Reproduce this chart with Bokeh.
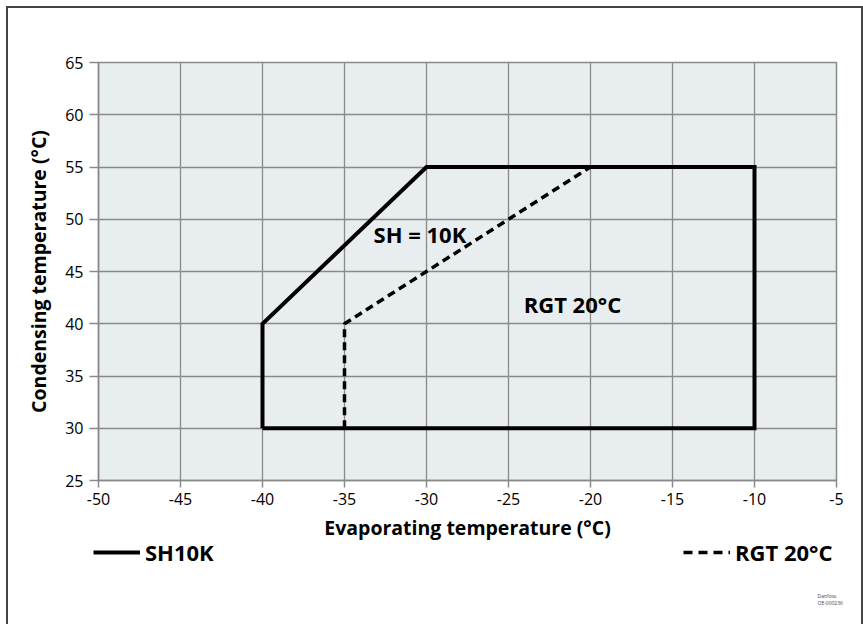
from bokeh.plotting import figure
from bokeh.models import (FixedTicker, Legend, LegendItem, Label, Range1d)
from bokeh.embed import file_html
from bokeh.resources import INLINE

# --- data ---
sh10k_x = [-40, -40, -30, -10, -10, -40]
sh10k_y = [30, 40, 55, 55, 30, 30]
rgt_x = [-35, -35, -20]
rgt_y = [30, 40, 55]
x_ticks = [-50, -45, -40, -35, -30, -25, -20, -15, -10, -5]
y_ticks = [25, 30, 35, 40, 45, 50, 55, 60, 65]
annotations = [("SH = 10K", -30.4, 48.6), ("RGT 20°C", -21.1, 41.9)]
legend_names = ["SH10K", "RGT 20°C"]
credit = "Danfoss\nOE-000236"

FONT = "Open Sans"
GRID = "#8a8a8a"

p = figure(width=857, height=618, output_backend="svg", toolbar_location=None,
           x_range=Range1d(-50, -5), y_range=Range1d(25, 65),
           min_border_left=90, min_border_right=29, min_border_top=54,
           min_border_bottom=146)
p.styles = {"border-left": "2px solid #444", "border-top": "2px solid #444",
            "border-right": "2px solid #444", "margin-left": "6px",
            "margin-top": "6px"}

p.background_fill_color = "#e8edf0"
p.border_fill_color = "white"
p.outline_line_color = GRID
p.outline_line_width = 1.5

p.xgrid.grid_line_color = GRID
p.ygrid.grid_line_color = GRID
p.xgrid.grid_line_width = 1.3
p.ygrid.grid_line_width = 1.3
p.xaxis.ticker = FixedTicker(ticks=x_ticks)
p.yaxis.ticker = FixedTicker(ticks=y_ticks)
p.xgrid.ticker = FixedTicker(ticks=x_ticks)
p.ygrid.ticker = FixedTicker(ticks=y_ticks)
p.xaxis.major_label_overrides = {t: str(t) for t in x_ticks}
p.yaxis.major_label_overrides = {t: str(t) for t in y_ticks}

for ax in (p.xaxis[0], p.yaxis[0]):
    ax.axis_line_color = GRID
    ax.axis_line_width = 1.5
    ax.major_tick_line_color = GRID
    ax.major_tick_line_width = 1.5
    ax.major_tick_in = 0
    ax.minor_tick_line_color = None
    ax.major_label_text_font = FONT
    ax.major_label_text_font_size = "16px"
    ax.major_label_text_color = "black"
    ax.axis_label_text_font = FONT
    ax.axis_label_text_font_style = "bold"
    ax.axis_label_text_font_size = "19.5px"
    ax.axis_label_text_color = "black"

p.xaxis.major_tick_out = 7
p.yaxis.major_tick_out = 9
p.xaxis.major_label_standoff = 5
p.yaxis.major_label_standoff = 6
p.xaxis.axis_label = "Evaporating temperature (°C)"
p.yaxis.axis_label = "Condensing temperature (°C)"
p.xaxis.axis_label_standoff = 6
p.yaxis.axis_label_standoff = 10

SOLID = dict(line_color="black", line_width=4, line_join="miter")
DASHED = dict(line_color="black", line_width=3.5, line_dash="8 5")

p.line(sh10k_x, sh10k_y, **SOLID)
p.line(rgt_x, rgt_y, **DASHED)

for txt, x, y in annotations:
    p.add_layout(Label(x=x, y=y, text=txt, text_align="center",
                       text_baseline="middle", text_font=FONT,
                       text_font_style="bold", text_font_size="22px",
                       text_color="black"))

# --- overlay strip for the key and the credit (pixel-unit ranges) ---
OW, OH = 783, 94
q = figure(width=OW, height=OH, output_backend="svg", toolbar_location=None,
           x_range=Range1d(0, OW), y_range=Range1d(0, OH),
           x_axis_type=None, y_axis_type=None,
           min_border=0, min_border_left=0, min_border_right=0,
           min_border_top=0, min_border_bottom=0)
q.styles = {"position": "absolute", "left": "80px", "top": "530px",
            "pointer-events": "none"}
q.background_fill_alpha = 0
q.border_fill_alpha = 0
q.outline_line_color = None
q.grid.visible = False

# key renderers reuse the series data; it lies outside this strip's ranges,
# so only their legend samples show
k1 = q.line(sh10k_x, sh10k_y, **SOLID)
k2 = q.line(rgt_x, rgt_y, line_color="black", line_width=3.5,
            line_dash="9 6")

def make_legend(item, loc):
    return Legend(items=[item], location=loc, orientation="horizontal",
                  padding=0, margin=0, border_line_color=None,
                  background_fill_alpha=0, glyph_width=47, glyph_height=20,
                  label_height=20, label_standoff=5, label_text_font=FONT,
                  label_text_font_style="bold", label_text_font_size="22px",
                  label_text_color="black")

q.add_layout(make_legend(LegendItem(label=legend_names[0], renderers=[k1]), (13, 57)))
q.add_layout(make_legend(LegendItem(label=legend_names[1], renderers=[k2]), (603, 57)))

q.add_layout(Label(x=737, y=32, text=credit, text_baseline="top",
                   text_align="left", text_font=FONT, text_font_size="5px",
                   text_line_height=1.3, text_color="#444"))

open("out.html", "w").write(file_html([p, q], INLINE))
